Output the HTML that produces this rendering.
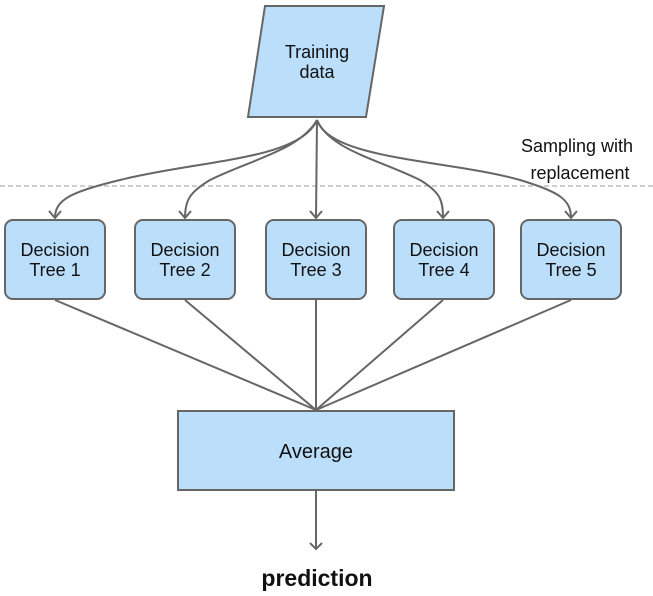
<!DOCTYPE html>
<html><head><style>body{margin:0;background:#fff}svg{display:block}</style></head><body>
<svg width="653" height="596" viewBox="0 0 653 596" xmlns="http://www.w3.org/2000/svg" font-family="Liberation Sans, Arial, sans-serif">
<line x1="0" y1="186" x2="653" y2="186" stroke="#b0b0b0" stroke-width="1.3" stroke-dasharray="5,3"/>
<polygon points="265,6 384,6 366,117 248,117" fill="#bbdefb" stroke="#666" stroke-width="2"/>
<text x="317" y="58" font-size="18" text-anchor="middle" fill="#111">Training</text>
<text x="317" y="78" font-size="18" text-anchor="middle" fill="#111">data</text>
<text x="577" y="152" font-size="18" text-anchor="middle" fill="#111">Sampling with</text>
<text x="580" y="179" font-size="18" text-anchor="middle" fill="#111">replacement</text>
<g fill="none" stroke="#666" stroke-width="2">
<path d="M317,120 C300,160 200,160 120,180 C70,192 55,200 55,218"/>
<path d="M317,120 C300,150 250,160 210,180 C190,192 185,200 185,218"/>
<path d="M317,120 L316,218"/>
<path d="M317,120 C330,150 380,160 420,180 C440,192 443,200 443,218"/>
<path d="M317,120 C330,160 450,160 520,180 C560,192 571,200 571,218"/>
<path d="M49,211 L55,218 L61,211 M179,211 L185,218 L191,211 M310,211 L316,218 L322,211 M437,211 L443,218 L449,211 M565,211 L571,218 L577,211"/>
<path d="M55,300 L316,410 M185,300 L316,410 M316,300 L316,410 M443,300 L316,410 M571,300 L316,410"/>
<path d="M316,490 L316,549 M310,543 L316,549 L322,543"/>
</g>
<g fill="#bbdefb" stroke="#666" stroke-width="2">
<rect x="5" y="220" width="100" height="79" rx="8"/>
<rect x="135" y="220" width="100" height="79" rx="8"/>
<rect x="266" y="220" width="100" height="79" rx="8"/>
<rect x="394" y="220" width="100" height="79" rx="8"/>
<rect x="521" y="220" width="100" height="79" rx="8"/>
<rect x="178" y="411" width="276" height="79"/>
</g>
<g font-size="18" text-anchor="middle" fill="#111">
<text x="55" y="256">Decision</text><text x="55" y="276">Tree 1</text>
<text x="185" y="256">Decision</text><text x="185" y="276">Tree 2</text>
<text x="316" y="256">Decision</text><text x="316" y="276">Tree 3</text>
<text x="444" y="256">Decision</text><text x="444" y="276">Tree 4</text>
<text x="571" y="256">Decision</text><text x="571" y="276">Tree 5</text>
<text x="316" y="458" font-size="20">Average</text>
</g>
<text x="317" y="586" font-size="23" font-weight="bold" text-anchor="middle" fill="#111">prediction</text>
</svg>
</body></html>
